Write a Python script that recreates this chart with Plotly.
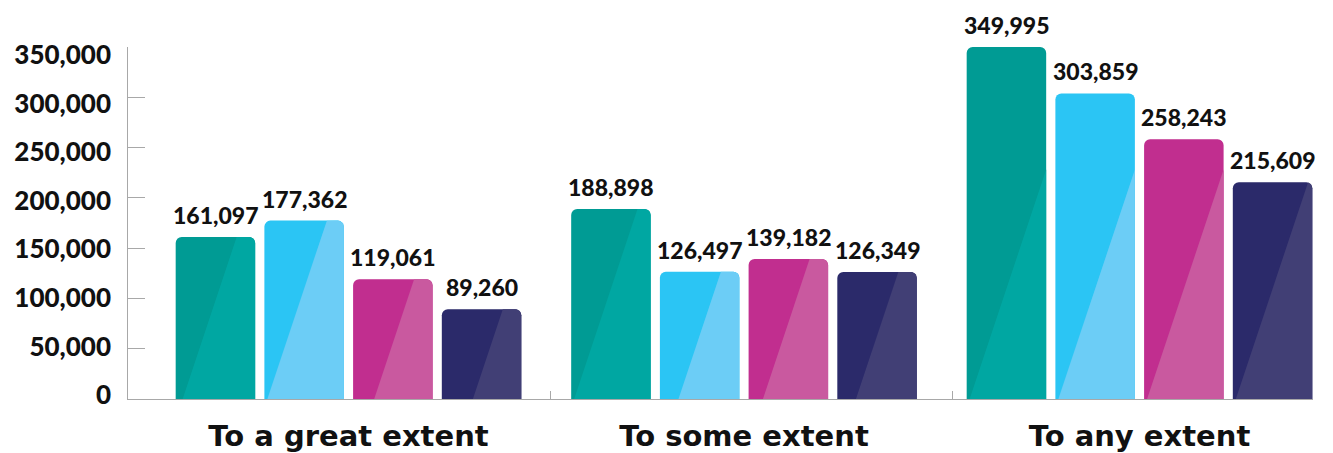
import math
import plotly.graph_objects as go

# ---------------- data ----------------
categories = ["To a great extent", "To some extent", "To any extent"]
series_names = ["Series 1", "Series 2", "Series 3", "Series 4"]
teal_values = [161097, 188898, 349995]
blue_values = [177362, 126497, 303859]
magenta_values = [119061, 139182, 258243]
navy_values = [89260, 126349, 215609]
y_tick_values = [0, 50000, 100000, 150000, 200000, 250000, 300000, 350000]
y_tick_labels = ["0", "50,000", "100,000", "150,000", "200,000", "250,000", "300,000", "350,000"]

series_values = [teal_values, blue_values, magenta_values, navy_values]
dark_colors = ["#009B94", "#2BC5F4", "#C12E8F", "#2B2A6A"]
light_colors = ["#00A7A2", "#6CCDF6", "#C9599F", "#413F75"]

# ---------------- layout constants ----------------
PAGE_OFF = 8                      # default body margin of the html page
W, H = 1333 - PAGE_OFF, 453 - PAGE_OFF
ML, MR, MT, MB = 128 - PAGE_OFF, 20, 47 - PAGE_OFF, 54
X_RANGE = [-0.5575, 2.4387]
Y_RANGE = [0, 350000]
PLOT_W = W - ML - MR
PLOT_H = H - MT - MB
SX = PLOT_W / (X_RANGE[1] - X_RANGE[0])      # px per x unit
SY = PLOT_H / (Y_RANGE[1] - Y_RANGE[0])      # px per y unit
BAR_W = 0.201
PITCH = 0.2243
CORNER = 6
NUM_FONT = "Lato"
CAT_FONT = "DejaVu Sans"
GRAY = "#A8A8A8"
BOUNDARY_TICKS = [0.51, 1.528]

group_x = list(range(len(categories)))


def shine_polygon(cx, value):
    """light diagonal overlay on the right part of a bar (pixel math -> data)."""
    w = BAR_W * SX
    h = value * SY
    L = (cx - X_RANGE[0]) * SX - w / 2
    R = L + w
    r = CORNER
    pts = [(L, 0), (R, 0), (R, h - r)]
    for k in range(1, 9):
        a = math.radians(90 * k / 8)
        pts.append((R - r + r * math.cos(a), h - r + r * math.sin(a)))
    for k in range(1, 9):
        a = math.radians(90 + 90 * k / 8)
        pts.append((L + r + r * math.cos(a), h - r + r * math.sin(a)))
    b = max(61 - h / 3, 3)

    def f(p):
        return p[0] - (L + b) - p[1] / 3

    out = []
    n = len(pts)
    for i in range(n):
        p, q = pts[i], pts[(i + 1) % n]
        fp, fq = f(p), f(q)
        if fp >= 0:
            out.append(p)
        if (fp >= 0) != (fq >= 0):
            t = fp / (fp - fq)
            out.append((p[0] + t * (q[0] - p[0]), p[1] + t * (q[1] - p[1])))
    xs = [X_RANGE[0] + px / SX for px, _ in out]
    ys = [py / SY for _, py in out]
    if out:
        xs.append(xs[0])
        ys.append(ys[0])
    return xs, ys


fig = go.Figure()
annotations = []
for i, (name, vals) in enumerate(zip(series_names, series_values)):
    xs = [g + (i - 1.5) * PITCH for g in group_x]
    fig.add_trace(go.Bar(
        x=xs, y=vals, width=BAR_W, name=name,
        marker=dict(color=dark_colors[i], line=dict(width=0), cornerradius=CORNER),
        hoverinfo="y", showlegend=False,
    ))
    for x, v in zip(xs, vals):
        px_, py_ = shine_polygon(x, v)
        fig.add_trace(go.Scatter(
            x=px_, y=py_, mode="lines", fill="toself",
            fillcolor=light_colors[i], line=dict(width=0),
            hoverinfo="skip", showlegend=False,
        ))
        annotations.append(dict(
            x=x, y=v, xref="x", yref="y", text=f"{v:,}", showarrow=False,
            yanchor="middle", yshift=22,
            font=dict(family=NUM_FONT, size=23, color="#111111", weight=900),
        ))

# invisible trace to anchor the helper axes
fig.add_trace(go.Scatter(x=[0], y=[0], xaxis="x2", yaxis="y2", mode="markers",
                         marker=dict(opacity=0), hoverinfo="skip", showlegend=False))

# label axis placement (labels sit slightly off the tick lines in the reference)
lab_bottom_off = 4   # px above baseline for "0"
lab_top_off = 8      # px below top for "350,000"
per_px = (Y_RANGE[1] - Y_RANGE[0]) / (PLOT_H - lab_bottom_off - lab_top_off)
y2_range = [Y_RANGE[0] - lab_bottom_off * per_px, Y_RANGE[1] + lab_top_off * per_px]

fig.update_layout(
    width=W, height=H,
    margin=dict(l=ML, r=MR, t=MT, b=MB, pad=0, autoexpand=False),
    paper_bgcolor="white", plot_bgcolor="white",
    barmode="overlay",
    annotations=annotations,
    xaxis=dict(
        range=X_RANGE, tickvals=group_x, ticktext=categories, automargin=False,
        showline=True, linecolor=GRAY, linewidth=1.3,
        showgrid=False, zeroline=False, ticks="",
        tickfont=dict(family=CAT_FONT, size=29, color="#111111", weight="bold"),
        ticklabelstandoff=11,
    ),
    xaxis2=dict(
        range=X_RANGE, overlaying="x", anchor="y", side="bottom", automargin=False,
        tickvals=BOUNDARY_TICKS, ticks="inside", ticklen=8, tickcolor=GRAY, tickwidth=1.3,
        showticklabels=False, showgrid=False, zeroline=False, showline=False,
    ),
    yaxis=dict(
        range=Y_RANGE, tickvals=y_tick_values, showticklabels=False, automargin=False,
        ticks="inside", ticklen=17, tickcolor=GRAY, tickwidth=1.3,
        showline=True, linecolor=GRAY, linewidth=1.3,
        showgrid=False, zeroline=False,
    ),
    yaxis2=dict(
        range=y2_range, overlaying="y", anchor="x", side="left", automargin=False,
        tickvals=y_tick_values, ticktext=y_tick_labels, ticks="",
        showline=False, showgrid=False, zeroline=False,
        tickfont=dict(family=NUM_FONT, size=26, color="#111111", weight=900),
        ticklabelstandoff=16,
    ),
)

fig.write_html("out.html")
